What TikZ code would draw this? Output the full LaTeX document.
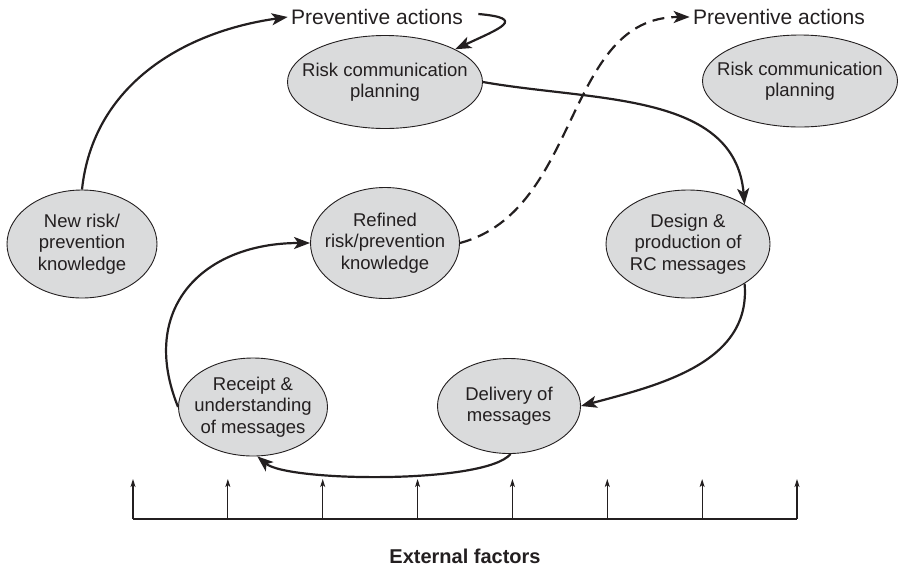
\documentclass[tikz,border=0pt]{standalone}
\usepackage{fontspec}
\setmainfont{Liberation Sans}
\usetikzlibrary{arrows.meta, calc, shapes.geometric}
\definecolor{blobgray}{HTML}{DADBDC}
\definecolor{inkblack}{HTML}{231F20}

\tikzset{
  blob/.style={ellipse, draw=inkblack, line width=0.9pt, fill=blobgray, inner sep=0pt},
  blobtext/.style={align=center, text=inkblack, inner sep=0pt, font=\fontsize{18.5}{21.5}\selectfont},
  action/.style={text=inkblack, font=\fontsize{21}{24}\selectfont},
  flow/.style={line width=2.2pt, draw=inkblack, -{Stealth[length=16pt, width=12pt, inset=4pt]}},
  factor/.style={line width=1.1pt, draw=inkblack, -{Stealth[length=8pt, width=5pt, inset=2pt]}}
}

\begin{document}
\begin{tikzpicture}[x=1pt, y=1pt]
  \useasboundingbox (0,0) rectangle (901,-579);

  % the cycle
  \node[blob, minimum width=150, minimum height=108,
        label={[blobtext]center:New risk/\\prevention\\knowledge}] (newrisk) at (82,-244) {};
  \node[blob, minimum width=195, minimum height=93,
        label={[blobtext]center:Risk communication\\planning}] (plan) at (385,-82) {};
  \node[blob, minimum width=195, minimum height=92,
        label={[blobtext]center:Risk communication\\planning}] (plantwo) at (800,-81) {};
  \node[blob, minimum width=149, minimum height=111,
        label={[blobtext]center:Refined\\risk/prevention\\knowledge}] (refined) at (385,-243) {};
  \node[blob, minimum width=164, minimum height=108,
        label={[blobtext]center:Design \&\\production of\\RC messages}] (design) at (688,-244) {};
  \node[blob, minimum width=143, minimum height=95,
        label={[blobtext]center:Delivery of\\messages}] (delivery) at (509,-406) {};
  \node[blob, minimum width=149, minimum height=98,
        label={[blobtext]center:Receipt \&\\understanding\\of messages}] (receipt) at (253,-407) {};

  \node[action] (actone) at (377,-17) {Preventive actions};
  \node[action] (acttwo) at (779,-17) {Preventive actions};

  \draw[flow] (newrisk.north) to[out=84, in=188] (actone.west);
  \draw[flow] ([xshift=12pt, yshift=3pt]actone.east) to[out=-5, in=25, looseness=3] (plan.25);
  \draw[flow] (plan.east) to[out=-10, in=95] (design.35);
  \draw[flow] (design.-35) to[out=-85, in=15] (delivery.east);
  \draw[flow] (delivery.-88) to[out=-130, in=-40, looseness=0.4] (receipt.-85);
  \draw[flow] (receipt.west) to[out=112, in=180, looseness=1.3] (refined.west);
  \draw[flow, dash pattern=on 12pt off 7pt] (refined.east) to[out=15, in=180] (acttwo.west);

  % external factors
  \foreach \i in {0,...,7} {
    \coordinate (base\i) at ({133+\i*94.857},-519);
    \coordinate (tip\i) at ({133+\i*94.857},-479);
    \draw[factor] (base\i) -- (tip\i);
  }
  \draw[line width=1.1pt, draw=inkblack] (base0) -- (base7);
  \node[text=inkblack, font=\fontsize{20}{24}\selectfont\bfseries] (ext) at (465,-556) {External factors};
\end{tikzpicture}
\end{document}
